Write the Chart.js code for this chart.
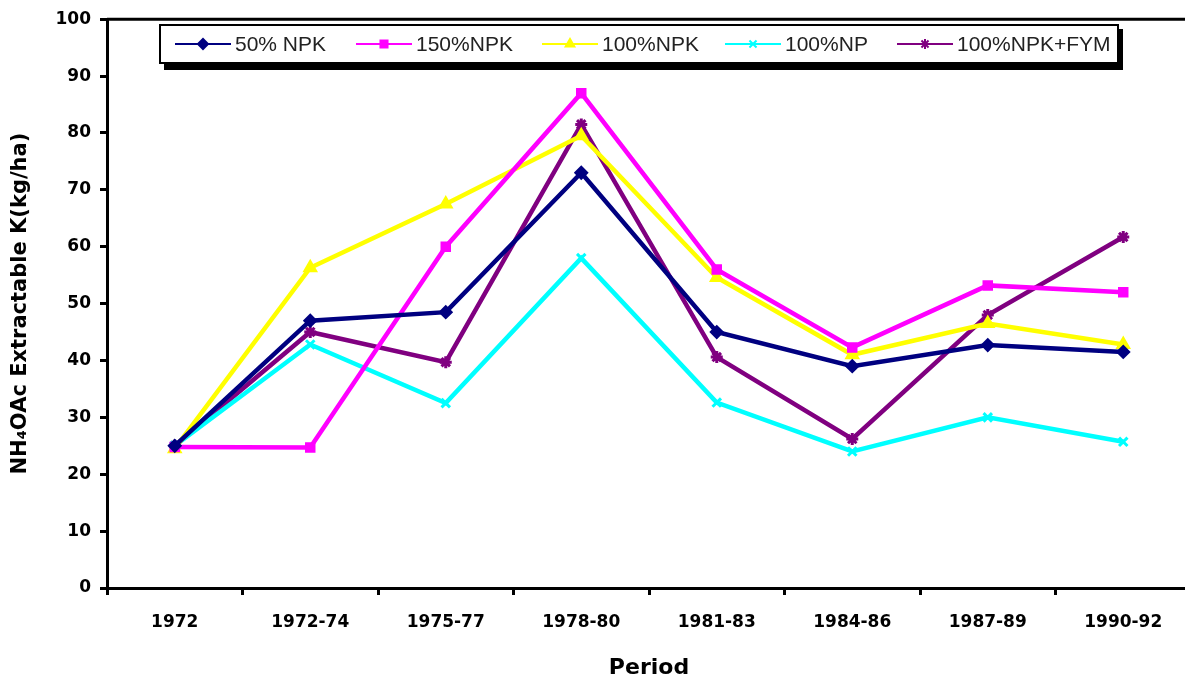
<!DOCTYPE html>
<html>
<head>
<meta charset="utf-8">
<script src="https://cdn.jsdelivr.net/npm/chart.js@4.4.1/dist/chart.umd.min.js"></script>
<style>
html,body{margin:0;padding:0;background:#fff;overflow:hidden;}
#wrap{position:relative;width:1200px;height:681px;}
</style>
</head>
<body>
<div id="wrap"><canvas id="c" width="1200" height="681"></canvas></div>
<script>
const periods = ["1972","1972-74","1975-77","1978-80","1981-83","1984-86","1987-89","1990-92"];
const npk50   = [25, 47, 48.5, 73, 45, 39, 42.7, 41.5];
const npk150  = [24.8, 24.7, 60, 87, 56, 42.3, 53.2, 52];
const npk100  = [24.5, 56.3, 67.5, 79.5, 54.6, 41, 46.5, 42.8];
const np100   = [25, 42.8, 32.5, 58, 32.6, 24, 30, 25.7];
const npkFym  = [25, 45, 39.7, 81.5, 40.6, 26.2, 48, 61.7];
const seriesNames = ["50% NPK","150%NPK","100%NPK","100%NP","100%NPK+FYM"];
const yTicks = [0,10,20,30,40,50,60,70,80,90,100];

const tickFont = {family:"'DejaVu Sans'", weight:'bold', size:17};

function ds(label, data, color, style, radius, pbw){
  return {label, data, borderColor:color, backgroundColor:color,
    pointBackgroundColor:color, pointBorderColor:color, borderWidth:4.5,
    pointStyle:style, pointRadius:radius, pointBorderWidth:pbw, tension:0, fill:false};
}

const legendPlugin = {
  id:'boxLegend',
  afterDraw(chart){
    const ctx = chart.ctx;
    ctx.save();
    ctx.fillStyle = '#000';
    ctx.fillRect(164, 29, 959, 41);
    ctx.fillStyle = '#fff';
    ctx.fillRect(160, 25, 958, 38);
    ctx.strokeStyle = '#000';
    ctx.lineWidth = 2;
    ctx.strokeRect(160, 25, 958, 38);
    const xs = [175, 356, 542, 725, 897];
    const y = 44;
    ctx.font = "21px 'Liberation Sans'";
    ctx.textBaseline = 'middle';
    chart.data.datasets.forEach((d, i) => {
      const x0 = xs[i];
      ctx.strokeStyle = d.borderColor;
      ctx.lineWidth = 2;
      ctx.beginPath(); ctx.moveTo(x0, y); ctx.lineTo(x0 + 56, y); ctx.stroke();
      ctx.fillStyle = d.pointBackgroundColor;
      ctx.strokeStyle = d.pointBorderColor;
      ctx.lineWidth = 2;
      Chart.helpers.drawPoint(ctx, {pointStyle:d.pointStyle, radius:5, borderWidth:2, rotation:0}, x0 + 28, y);
      ctx.fillStyle = '#222';
      ctx.textAlign = 'left';
      ctx.fillText(d.label, x0 + 60, y + 1);
    });
    ctx.restore();
  }
};

const topLine = {
  id:'topLine',
  beforeDatasetsDraw(chart){
    const {ctx, chartArea} = chart;
    ctx.save();
    ctx.strokeStyle = '#000';
    ctx.lineWidth = 3;
    ctx.beginPath();
    ctx.moveTo(chartArea.left, chartArea.top);
    ctx.lineTo(chart.width, chartArea.top);
    ctx.stroke();
    ctx.restore();
  }
};

new Chart(document.getElementById('c'), {
  type:'line',
  data:{
    labels: periods,
    datasets:[
      ds(seriesNames[0], npk50, '#000080', 'rectRot', 6, 2),
      ds(seriesNames[1], npk150, '#FF00FF', 'rect', 6, 2),
      ds(seriesNames[2], npk100, '#FFFF00', 'triangle', 7, 2),
      ds(seriesNames[3], np100, '#00FFFF', 'crossRot', 6, 3),
      ds(seriesNames[4], npkFym, '#800080', 'star', 6, 3)
    ]
  },
  options:{
    responsive:false,
    animation:false,
    layout:{padding:{left:0, right:9, top:18, bottom:0}},
    plugins:{legend:{display:false}, tooltip:{enabled:false}},
    scales:{
      x:{
        offset:true,
        grid:{display:true, drawOnChartArea:false, offset:true, drawTicks:true, tickLength:7, tickWidth:3, tickColor:'#000', color:'#000'},
        border:{display:true, color:'#000', width:3},
        ticks:{font:tickFont, color:'#000', padding:17, maxRotation:0, autoSkip:false},
        title:{display:true, text:'Period', color:'#000', font:{family:"'DejaVu Sans'", weight:'bold', size:22}, padding:{top:0,bottom:0}},
        afterFit(s){ s.height = 93; }
      },
      y:{
        min:0, max:100,
        afterBuildTicks(s){ s.ticks = yTicks.map(v => ({value:v})); },
        grid:{display:true, drawOnChartArea:false, drawTicks:true, tickLength:7, tickWidth:3, tickColor:'#000', color:'#000'},
        border:{display:true, color:'#000', width:3},
        ticks:{font:tickFont, color:'#000', padding:9},
        title:{display:true, text:'NH₄OAc Extractable K(kg/ha)', color:'#000', font:{family:"'DejaVu Sans'", weight:'bold', size:21}, padding:{top:8,bottom:0}},
        afterFit(s){ s.width = 107; }
      }
    }
  },
  plugins:[topLine, legendPlugin]
});
</script>
</body>
</html>
